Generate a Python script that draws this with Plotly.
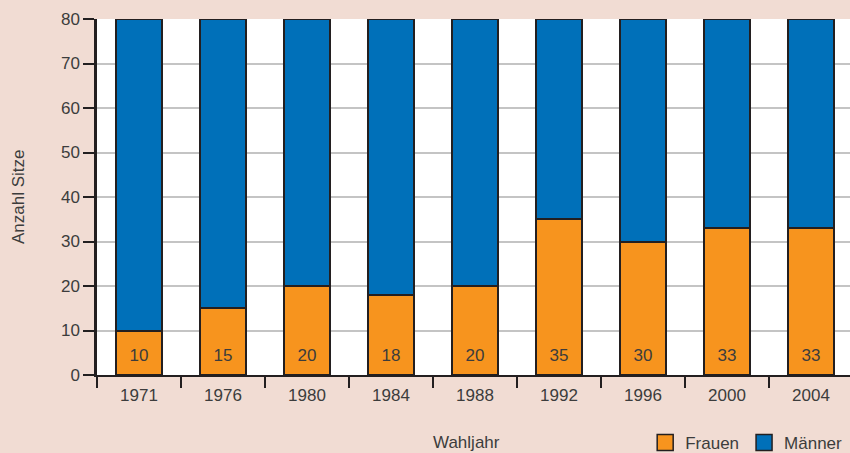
import plotly.graph_objects as go

years = ["1971", "1976", "1980", "1984", "1988", "1992", "1996", "2000", "2004"]
frauen = [10, 15, 20, 18, 20, 35, 30, 33, 33]
maenner = [70, 65, 60, 62, 60, 45, 50, 47, 47]
y_ticks = [0, 10, 20, 30, 40, 50, 60, 70, 80]

ORANGE = "#f7941e"
BLUE = "#0070b9"
EDGE = "#231f20"
TXT = "#3c3c3c"
FONT = "Liberation Sans"

fig = go.Figure()
fig.add_trace(go.Bar(x=years, y=frauen, name="Frauen", marker=dict(color=ORANGE, line=dict(color=EDGE, width=2)),
                     width=0.55, showlegend=False, hoverinfo="skip"))
fig.add_trace(go.Bar(x=years, y=maenner, name="Männer", marker=dict(color=BLUE, line=dict(color=EDGE, width=2)),
                     width=0.55, showlegend=False, hoverinfo="skip"))
# value labels inside the women's segments
fig.add_trace(go.Scatter(x=years, y=[4.1] * len(years), mode="text", text=[str(v) for v in frauen],
                         textfont=dict(family=FONT, size=17, color=TXT), showlegend=False, hoverinfo="skip",
                         cliponaxis=False))
# legend entries
for nm, col in [("Frauen", ORANGE), ("Männer", BLUE)]:
    fig.add_trace(go.Scatter(x=[None], y=[None], mode="markers", name=nm,
                             marker=dict(symbol="square", size=16, color=col, line=dict(color=EDGE, width=1.5))))

fig.update_layout(
    width=850, height=453,
    barmode="stack",
    paper_bgcolor="#f1dcd3",
    plot_bgcolor="#ffffff",
    margin=dict(l=97, r=0, t=19, b=78),
    font=dict(family=FONT, size=17, color=TXT),
    legend=dict(orientation="h", x=0.728, xanchor="left", yref="container", y=(453 - 443) / 453,
                yanchor="middle", traceorder="normal",
                bgcolor="rgba(0,0,0,0)", font=dict(size=17, color=TXT), itemwidth=30),
    xaxis=dict(type="category", range=[-0.5, -0.5 + 753 / 84], showgrid=False,
               showline=True, linecolor=EDGE, linewidth=2,
               ticks="outside", tickson="boundaries", ticklen=11, tickwidth=2, tickcolor=EDGE,
               ticklabelstandoff=4, tickfont=dict(size=17, color=TXT)),
    yaxis=dict(range=[0, 80], tickvals=y_ticks, showgrid=True, gridcolor="#c4c4c4", gridwidth=1.5,
               showline=True, linecolor=EDGE, linewidth=2.5, zeroline=False,
               ticks="outside", ticklen=11, tickwidth=2, tickcolor=EDGE,
               tickfont=dict(size=17, color=TXT)),
    annotations=[
        dict(text="Wahljahr", x=(466 - 97) / 753, y=(375 - 442) / 356, xref="paper", yref="paper",
             showarrow=False, font=dict(size=17, color=TXT), xanchor="center", yanchor="middle"),
        dict(text="Anzahl Sitze", x=(18 - 97) / 753, y=0.5, xref="paper", yref="paper", textangle=-90,
             showarrow=False, font=dict(size=17, color=TXT), xanchor="center", yanchor="middle"),
    ],
)

fig.write_html("out.html", config={"displayModeBar": False},
               post_script="document.body.style.margin='0';document.body.style.overflow='hidden';")
